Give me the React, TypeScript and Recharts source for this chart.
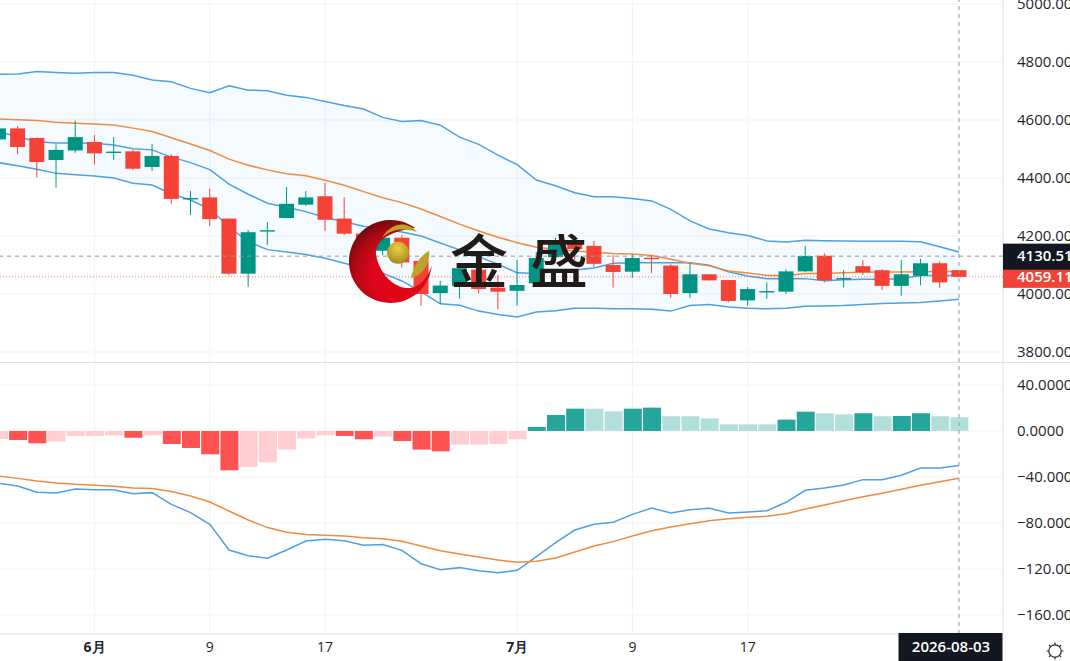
import {
  Area,
  Bar,
  CartesianGrid,
  Cell,
  ComposedChart,
  Line,
  ReferenceLine,
  XAxis,
  YAxis
} from 'recharts';

const FONT = '"Open Sans", sans-serif';

const opens = [4533, 4571, 4538, 4462, 4495, 4524, 4487, 4492, 4438, 4476, 4327, 4333, 4260, 4070, 4216, 4262, 4308, 4337, 4260, 4208, 4149, 4194, 4114, 4003, 4028, 4084, 4022, 4011, 4037, 4127, 4176, 4166, 4100, 4077, 4125, 4098, 4003, 4068, 4048, 3978, 4006, 4008, 4078, 4132, 4051, 4096, 4082, 4028, 4063, 4106, 4082];
const highs = [4579, 4579, 4540, 4516, 4597, 4548, 4541, 4497, 4517, 4482, 4355, 4363, 4261, 4221, 4248, 4369, 4355, 4383, 4334, 4215, 4221, 4203, 4118, 4045, 4090, 4087, 4066, 4117, 4145, 4194, 4186, 4183, 4134, 4137, 4134, 4103, 4106, 4069, 4049, 4024, 4040, 4085, 4166, 4140, 4083, 4117, 4085, 4117, 4121, 4113, 4083];
const lows = [4528, 4482, 4402, 4367, 4487, 4447, 4462, 4427, 4424, 4311, 4272, 4234, 4066, 4025, 4169, 4261, 4304, 4218, 4203, 4130, 4134, 4091, 3959, 3966, 3984, 4002, 3947, 3960, 4036, 4124, 4117, 4093, 4022, 4056, 4073, 3987, 3987, 4046, 3971, 3960, 3984, 4001, 4076, 4040, 4022, 4066, 4014, 3994, 4030, 4022, 4059];
const closes = [4571, 4507, 4455, 4497, 4541, 4485, 4491, 4432, 4476, 4328, 4331, 4258, 4070, 4213, 4220, 4311, 4333, 4256, 4208, 4150, 4194, 4109, 4000, 4029, 4089, 4017, 4008, 4031, 4124, 4176, 4155, 4104, 4076, 4124, 4121, 4000, 4068, 4047, 3976, 4017, 4010, 4078, 4131, 4047, 4055, 4075, 4028, 4068, 4106, 4040, 4059.11];

const upperBand = [4758, 4759, 4767, 4764, 4761, 4764, 4764, 4754, 4738, 4732, 4709, 4694, 4718, 4703, 4701, 4685, 4678, 4664, 4650, 4638, 4609, 4595, 4598, 4582, 4541, 4516, 4479, 4446, 4393, 4373, 4349, 4335, 4335, 4329, 4321, 4292, 4252, 4224, 4211, 4202, 4183, 4179, 4185, 4184, 4183, 4182, 4182, 4182, 4180, 4163, 4145];
const orangeAvg = [4604, 4601, 4598, 4592, 4589, 4586, 4583, 4572, 4560, 4539, 4517, 4495, 4465, 4444, 4428, 4415, 4408, 4392, 4375, 4353, 4332, 4315, 4293, 4267, 4241, 4217, 4196, 4177, 4161, 4154, 4148, 4144, 4140, 4138, 4133, 4120, 4106, 4097, 4079, 4072, 4064, 4064, 4071, 4071, 4073, 4075, 4076, 4076, 4077, 4078, 4078];
const midBand = [4560, 4542, 4525, 4521, 4521, 4520, 4514, 4501, 4497, 4472, 4453, 4429, 4379, 4344, 4313, 4299, 4284, 4264, 4249, 4234, 4224, 4214, 4200, 4176, 4152, 4128, 4103, 4073, 4071, 4077, 4083, 4090, 4106, 4108, 4108, 4108, 4108, 4099, 4077, 4062, 4053, 4053, 4053, 4046, 4049, 4051, 4051, 4053, 4064, 4064, 4064];
const lowerBand = [4453, 4442, 4430, 4416, 4411, 4407, 4400, 4382, 4376, 4345, 4324, 4292, 4232, 4180, 4153, 4145, 4136, 4123, 4106, 4090, 4072, 4045, 4007, 3966, 3961, 3941, 3929, 3921, 3938, 3942, 3951, 3951, 3949, 3949, 3947, 3941, 3960, 3964, 3955, 3951, 3949, 3951, 3958, 3959, 3960, 3964, 3967, 3969, 3971, 3976, 3982];

const macdHist = [-6.9, -7.8, -10.7, -9.3, -4.3, -4.3, -3.8, -5.8, -3.8, -11.3, -14.8, -20.3, -34.2, -31.3, -27.3, -16.2, -6.4, -3.8, -4.3, -7.2, -4.9, -8.7, -16.2, -17.7, -11.9, -11.9, -11.3, -7.2, 3.5, 13.9, 19.4, 19.3, 17.1, 19.4, 20.3, 12.8, 12.8, 11, 5.8, 5.8, 5.8, 9.9, 16.8, 15.4, 14.5, 15.4, 12.8, 13, 15.4, 12.8, 11.9];
const macdLine = [-45.5, -47.8, -53.3, -53.9, -50.4, -51, -51, -54.5, -53.6, -63.8, -71, -81.2, -103.5, -108.4, -110.7, -103.5, -95.7, -94.2, -95.4, -99.4, -98.8, -103.8, -115.4, -120.6, -118.8, -121.5, -123.2, -121.1, -109.3, -97.1, -86.1, -81.1, -79.4, -72.5, -67, -71.3, -68.4, -67.2, -71.3, -70.4, -69.3, -62, -51.6, -49.6, -47, -42.3, -42.3, -38.5, -32.2, -32.2, -30.1];
const signalLine = [-39.1, -41.2, -43.5, -45.2, -46.4, -47.2, -48.1, -49.6, -50.1, -52.7, -56.5, -61.7, -69.6, -77.4, -84, -88.1, -89.9, -90.7, -91.3, -92.8, -93.6, -95.9, -100, -104.1, -107, -109.6, -112.2, -114.2, -113.3, -110.4, -105.2, -100, -96.2, -91.3, -86.7, -83.5, -80.6, -78, -76.3, -75, -74.2, -71.9, -67.8, -64.3, -60.6, -57.1, -54.2, -50.7, -47.2, -44.1, -41.1];

const priceTicks = [5000, 4800, 4600, 4400, 4200, 4000, 3800];
const macdTicks = [40, 0, -40, -80, -120, -160];
const timeTicks = [5, 11, 17, 27, 33, 39];
const timeLabels = ['6月', '9', '17', '7月', '9', '17'];
const lastDate = '2026-08-03';
const CURSOR_PRICE = 4130.51;
const LAST_PRICE = 4059.11;
const LAST_INDEX = 50;

const UP = '#009485';
const DOWN = '#f44336';
const BLUE = '#4f9fe3';
const ORANGE = '#ee8b3e';
const GRID = '#f2f3f5';
const BORDER = '#dfe1e6';
const TEXT = '#1f2430';
const X_DOMAIN: [number, number] = [0.078, 52.29];

const priceData = opens.map((open, i) => ({
  i,
  open,
  high: highs[i],
  low: lows[i],
  close: closes[i],
  upper: upperBand[i],
  avg: orangeAvg[i],
  mid: midBand[i],
  lower: lowerBand[i]
}));

const macdData = macdHist.map((hist, i) => ({
  i,
  hist,
  macd: macdLine[i],
  signal: signalLine[i]
}));

function histColor(i: number) {
  const v = macdHist[i];
  const prev = i > 0 ? macdHist[i - 1] : v;
  if (v >= 0) return v > prev ? '#26a69a' : '#b2dfdb';
  return v < prev ? '#ff5252' : '#ffcdd2';
}

function Candle(props: any) {
  const { x, y, width, height, payload } = props;
  const { open, high, low, close } = payload;
  const color = close >= open ? UP : DOWN;
  const toY = (v: number) => y + (height * (high - v)) / (high - low);
  const top = toY(Math.max(open, close));
  const bottom = toY(Math.min(open, close));
  const cx = x + width / 2;
  return (
    <g>
      <line x1={cx} x2={cx} y1={y} y2={y + height} stroke={color} strokeWidth={1} />
      <rect x={x} y={top} width={width} height={Math.max(bottom - top, 1.4)} fill={color} />
    </g>
  );
}

function PriceTick({ x, y, payload }: any) {
  const v = payload.value;
  if (v === CURSOR_PRICE || v === LAST_PRICE) {
    const black = v === CURSOR_PRICE;
    const rectY = black ? y - 12.5 : y - 8;
    const rectH = black ? 26 : 19;
    return (
      <g>
        <rect x={x - 14} y={rectY} width={70} height={rectH} fill={black ? '#131722' : DOWN} />
        <text x={x} y={y + 5} fill='#fff' fontSize={15} fontWeight={600} fontFamily={FONT}>
          {v.toFixed(2)}
        </text>
      </g>
    );
  }
  return (
    <text x={x} y={y + 5} fill={TEXT} fontSize={15} fontFamily={FONT}>
      {v.toFixed(2)}
    </text>
  );
}

function MacdTick({ x, y, payload }: any) {
  const v = payload.value;
  const label = `${v < 0 ? '\u2212' : ''}${Math.abs(v).toFixed(4)}`;
  return (
    <text x={x} y={y + 5} fill={TEXT} fontSize={15} fontFamily={FONT}>
      {label}
    </text>
  );
}

function TimeTick({ x, y, payload }: any) {
  const v = payload.value;
  if (v === LAST_INDEX) {
    return (
      <g>
        <rect x={x - 60.5} y={y - 1} width={104} height={28} fill='#131722' />
        <text x={x - 8} y={y + 18} fill='#fff' fontSize={15} fontWeight={600} fontFamily={FONT} textAnchor='middle'>
          {lastDate}
        </text>
      </g>
    );
  }
  const label = timeLabels[timeTicks.indexOf(v)];
  return (
    <text
      x={x}
      y={y + 18}
      fill={TEXT}
      fontSize={14}
      fontWeight={label.endsWith('月') ? 700 : 400}
      fontFamily={FONT}
      textAnchor='middle'
    >
      {label}
    </text>
  );
}

function Watermark() {
  return (
    <svg width={1070} height={661} style={{ position: 'absolute', left: 0, top: 0, pointerEvents: 'none' }}>
      <defs>
        <radialGradient id='crescent' cx='0.6' cy='0.66' r='0.72'>
          <stop offset='0.42' stopColor='#e0061a' />
          <stop offset='0.75' stopColor='#b00812' />
          <stop offset='1' stopColor='#5f0a0c' />
        </radialGradient>
        <radialGradient id='sphere' cx='0.5' cy='0.3' r='0.75'>
          <stop offset='0' stopColor='#eed23f' />
          <stop offset='1' stopColor='#9c8420' />
        </radialGradient>
      </defs>
      <path
        d='M415 228 A41.5 41.5 0 1 0 431.7 266 C428 277 420 287 410 288 C395 289 380 275 376 255 C375 243 385 232 415 228 Z'
        fill='url(#crescent)'
      />
      <path d='M382 238 C388 226 405 218 417 232 C405 228 392 228 382 238 Z' fill='#b9a42c' />
      <path d='M410.7 278 C418 276 431 268 429 250.7 C420 256 414 265 410.7 278 Z' fill='#b9a42c' />
      <circle cx={398} cy={252.7} r={11} fill='url(#sphere)' />
      <text x={450} y={283} fontSize={58} fontWeight={500} fill='#201a18' fontFamily='"Noto Sans CJK SC"'>
        金
      </text>
      <text x={530} y={283} fontSize={58} fontWeight={500} fill='#201a18' fontFamily='"Noto Sans CJK SC"'>
        盛
      </text>
      <g stroke='#2a2e39' strokeWidth={1.2} fill='none'>
        <circle cx={1055} cy={651} r={6.2} />
        <path d='M1055 642.5v2.5M1055 657v2.5M1046.5 651h2.5M1061 651h2.5M1049 645l1.8 1.8M1059.2 655.2l1.8 1.8M1049 657l1.8-1.8M1059.2 646.8l1.8-1.8' />
      </g>
    </svg>
  );
}

export default function App() {
  return (
    <div
      style={{
        position: 'absolute',
        left: 0,
        top: 0,
        width: 1070,
        height: 661,
        overflow: 'hidden',
        background: '#fff'
      }}
    >
      <div style={{ position: 'absolute', left: 0, top: 0 }}>
        <ComposedChart width={1070} height={362} data={priceData} margin={{ top: 0, right: 0, bottom: 0, left: 0 }}>
          <CartesianGrid stroke={GRID} horizontalValues={priceTicks} verticalValues={timeTicks} />
          <XAxis dataKey='i' type='number' domain={X_DOMAIN} allowDataOverflow ticks={timeTicks} hide />
          <YAxis
            orientation='right'
            width={67}
            domain={[3765.5, 5013.8]}
            allowDataOverflow
            ticks={[...priceTicks, LAST_PRICE, CURSOR_PRICE]}
            interval={0}
            tickSize={0}
            tickMargin={14}
            tickLine={false}
            axisLine={{ stroke: BORDER }}
            tick={PriceTick}
          />
          <Area
            dataKey={(d: any) => [d.lower, d.upper]}
            stroke='none'
            fill='#2196f3'
            fillOpacity={0.05}
            isAnimationActive={false}
          />
          <Line dataKey='upper' stroke={BLUE} strokeWidth={1.5} dot={false} isAnimationActive={false} />
          <Line dataKey='lower' stroke={BLUE} strokeWidth={1.5} dot={false} isAnimationActive={false} />
          <Line dataKey='mid' stroke={BLUE} strokeWidth={1.5} dot={false} isAnimationActive={false} />
          <Line dataKey='avg' stroke={ORANGE} strokeWidth={1.5} dot={false} isAnimationActive={false} />
          <Bar
            dataKey={(d: any) => [d.low, d.high]}
            barSize={15}
            shape={Candle}
            isAnimationActive={false}
            zIndex={500}
          />
          <ReferenceLine y={LAST_PRICE} stroke={DOWN} strokeDasharray='1 2' strokeOpacity={0.7} zIndex={600} />
          <ReferenceLine y={CURSOR_PRICE} stroke='#9598a1' strokeDasharray='4 4' zIndex={600} />
          <ReferenceLine x={LAST_INDEX} stroke='#9598a1' strokeDasharray='4 4' zIndex={600} />
        </ComposedChart>
      </div>
      <div style={{ position: 'absolute', left: 0, top: 362, width: 1070, height: 1, background: BORDER }} />
      <div style={{ position: 'absolute', left: 0, top: 363 }}>
        <ComposedChart width={1070} height={298} data={macdData} margin={{ top: 0, right: 0, bottom: 0, left: 0 }}>
          <CartesianGrid stroke={GRID} horizontalValues={macdTicks} verticalValues={timeTicks} />
          <XAxis
            dataKey='i'
            type='number'
            height={27}
            domain={X_DOMAIN}
            allowDataOverflow
            ticks={[...timeTicks, LAST_INDEX]}
            interval={0}
            tickSize={0}
            tickMargin={0}
            tickLine={false}
            axisLine={{ stroke: BORDER }}
            tick={TimeTick}
          />
          <YAxis
            orientation='right'
            width={67}
            domain={[-176.5, 59.1]}
            allowDataOverflow
            ticks={macdTicks}
            interval={0}
            tickSize={0}
            tickMargin={14}
            tickLine={false}
            axisLine={{ stroke: BORDER }}
            tick={MacdTick}
          />
          <Bar dataKey='hist' barSize={18} isAnimationActive={false}>
            {macdData.map((d) => (
              <Cell key={d.i} fill={histColor(d.i)} />
            ))}
          </Bar>
          <Line dataKey='macd' stroke={BLUE} strokeWidth={1.5} dot={false} isAnimationActive={false} />
          <Line dataKey='signal' stroke={ORANGE} strokeWidth={1.5} dot={false} isAnimationActive={false} />
          <ReferenceLine x={LAST_INDEX} stroke='#9598a1' strokeDasharray='4 4' />
        </ComposedChart>
      </div>
      <Watermark />
    </div>
  );
}
